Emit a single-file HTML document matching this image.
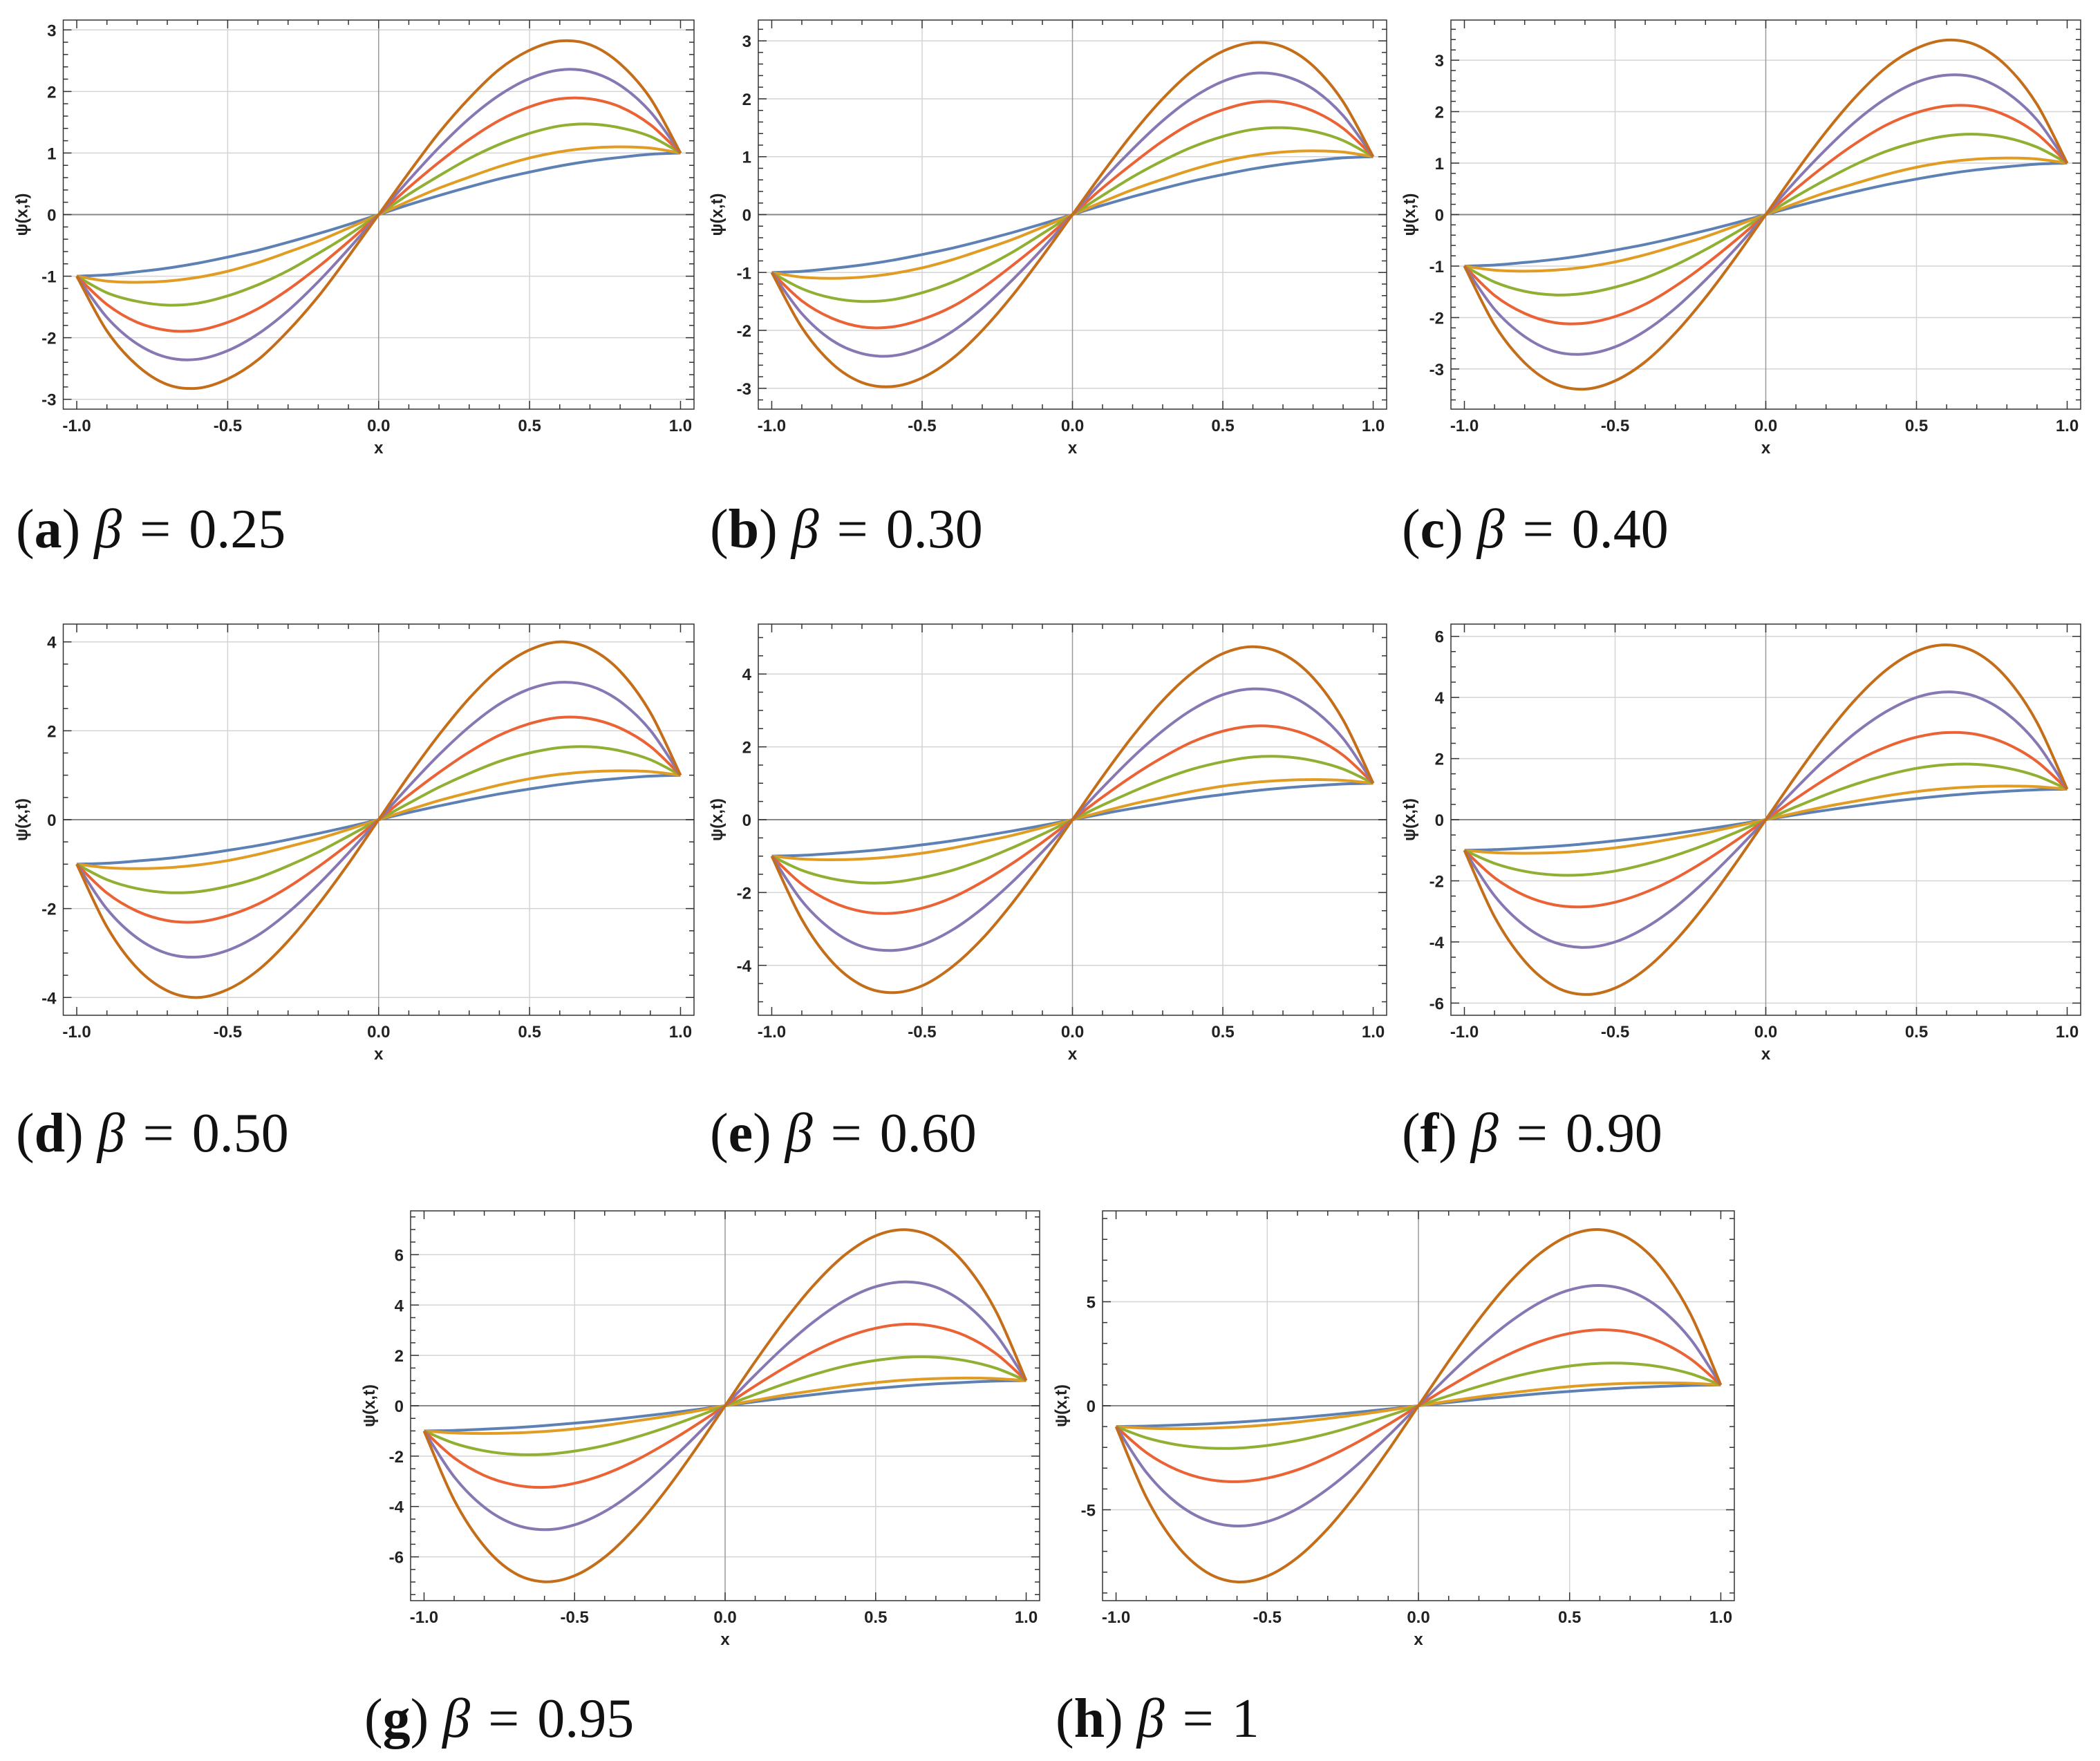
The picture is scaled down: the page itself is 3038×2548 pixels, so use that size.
<!DOCTYPE html>
<html><head><meta charset="utf-8">
<style>
html,body{margin:0;padding:0;background:#fff;}
svg{display:block;}
.tick{font-family:"Liberation Sans",sans-serif;font-size:24px;fill:#222;font-weight:bold;}
.cap{font-family:"Liberation Serif",serif;font-size:80px;fill:#111;}
</style></head>
<body>
<svg id="fig" width="3038" height="2548" viewBox="0 0 3038 2548" xmlns="http://www.w3.org/2000/svg"></svg>
<script>
// x samples for right half; left half is the odd mirror (curves pass through origin)
const xs = [0,0.1,0.2,0.3,0.4,0.5,0.6,0.7,0.8,0.9,1.0];
const blue = [0,0.16,0.31,0.45,0.58,0.69,0.79,0.87,0.93,0.98,1.0];
const yellow = [0,0.22,0.43,0.61,0.78,0.92,1.02,1.08,1.10,1.08,1.0];
const greenA=[0,.33,.63,.91,1.14,1.32,1.44,1.47,1.41,1.27,1];
const greenB=[0,.33,.65,.93,1.17,1.35,1.47,1.50,1.44,1.28,1];
const greenC=[0,.35,.68,.98,1.23,1.41,1.53,1.56,1.49,1.31,1];
const greenD=[0,.37,.73,1.04,1.31,1.50,1.62,1.64,1.55,1.35,1];
const greenE=[0,.40,.77,1.11,1.39,1.59,1.72,1.73,1.62,1.39,1];
const greenF=[0,.42,.82,1.17,1.46,1.68,1.80,1.81,1.69,1.43,1];
const greenG=[0,.45,.88,1.26,1.58,1.80,1.93,1.93,1.79,1.49,1];
const greenH=[0,.48,.93,1.34,1.67,1.91,2.04,2.03,1.87,1.54,1];
const redA=[0,.44,.85,1.22,1.53,1.75,1.88,1.88,1.75,1.46,1];
const redB=[0,.46,.88,1.27,1.59,1.81,1.94,1.94,1.79,1.49,1];
const redC=[0,.50,.97,1.39,1.74,1.98,2.11,2.10,1.92,1.57,1];
const redD=[0,.55,1.06,1.52,1.90,2.16,2.30,2.27,2.06,1.65,1];
const redE=[0,.62,1.20,1.71,2.14,2.43,2.57,2.52,2.26,1.77,1];
const redF=[0,.69,1.34,1.92,2.38,2.70,2.85,2.79,2.48,1.90,1];
const redG=[0,.79,1.53,2.19,2.72,3.08,3.24,3.14,2.77,2.07,1];
const redH=[0,.90,1.74,2.48,3.08,3.48,3.65,3.53,3.07,2.25,1];
const purpleA=[0,.56,1.09,1.56,1.94,2.21,2.35,2.32,2.10,1.67,1];
const purpleB=[0,.59,1.13,1.62,2.02,2.30,2.44,2.40,2.17,1.71,1];
const purpleC=[0,.66,1.27,1.82,2.26,2.57,2.71,2.66,2.37,1.84,1];
const purpleD=[0,.75,1.46,2.09,2.60,2.94,3.09,3.01,2.66,2.01,1];
const purpleE=[0,.88,1.71,2.44,3.03,3.43,3.59,3.48,3.03,2.23,1];
const purpleF=[0,1.03,2.00,2.86,3.54,4.00,4.18,4.02,3.47,2.49,1];
const purpleG=[0,1.23,2.38,3.39,4.20,4.73,4.92,4.71,4.03,2.82,1];
const purpleH=[0,1.45,2.81,4.00,4.95,5.57,5.78,5.51,4.67,3.20,1];
const orangeA=[0,.68,1.33,1.89,2.36,2.67,2.82,2.76,2.45,1.89,1];
const orangeB=[0,.72,1.40,2.00,2.49,2.82,2.97,2.90,2.57,1.95,1];
const orangeC=[0,.83,1.61,2.30,2.86,3.23,3.39,3.29,2.88,2.14,1];
const orangeD=[0,.99,1.91,2.73,3.39,3.82,4.00,3.85,3.34,2.41,1];
const orangeE=[0,1.18,2.29,3.27,4.04,4.56,4.75,4.55,3.90,2.74,1];
const orangeF=[0,1.43,2.78,3.96,4.90,5.51,5.72,5.46,4.63,3.18,1];
const orangeG=[0,1.76,3.41,4.86,6.01,6.75,6.99,6.64,5.58,3.74,1];
const orangeH=[0,2.14,4.15,5.91,7.30,8.19,8.47,8.01,6.69,4.40,1];
const xTicks = [-1.0,-0.5,0.0,0.5,1.0];
const xTickLabels = ["-1.0","-0.5","0.0","0.5","1.0"];
const yTicksA=[-3,-2,-1,0,1,2,3];
const yTicksD=[-4,-2,0,2,4];
const yTicksF=[-6,-4,-2,0,2,4,6];
const yTicksH=[-5,0,5];
const yExtent=[3.16,3.36,3.78,4.4,5.37,6.4,7.74,9.37];
const captionLetters=["a","b","c","d","e","f","g","h"];
const captionValues=["0.25","0.30","0.40","0.50","0.60","0.90","0.95","1"];

const colors=["#5E81B5","#E19C24","#8FB032","#EB6235","#8778B3","#C56E1A"];
const seriesNames=["blue","yellow","green","red","purple","orange"];
const frames=[[91.5,29,1004,592],[1097,29,2006,592],[2099,29,3010,592],
 [91.5,903,1004,1469],[1097,903,2006,1469],[2099,903,3010,1469],
 [594,1752,1504,2316],[1595,1752,2509,2316]];
const capPos=[[23,792],[1027,792],[2028,792],[23,1666],[1027,1666],[2028,1666],[527,2513],[1527,2513]];
const greens=[greenA,greenB,greenC,greenD,greenE,greenF,greenG,greenH];
const reds=[redA,redB,redC,redD,redE,redF,redG,redH];
const purples=[purpleA,purpleB,purpleC,purpleD,purpleE,purpleF,purpleG,purpleH];
const oranges=[orangeA,orangeB,orangeC,orangeD,orangeE,orangeF,orangeG,orangeH];
const yTickSets=[yTicksA,yTicksA,yTicksA,yTicksD,yTicksD,yTicksF,yTicksF,yTicksH];

const NS="http://www.w3.org/2000/svg";
const svg=document.getElementById('fig');
function mk(tag,attrs,parent){const e=document.createElementNS(NS,tag);for(const k in attrs)e.setAttribute(k,attrs[k]);(parent||svg).appendChild(e);return e;}

function catmull(pts){let d="M"+pts[0][0].toFixed(1)+","+pts[0][1].toFixed(1);
 for(let i=0;i<pts.length-1;i++){const p0=pts[Math.max(i-1,0)],p1=pts[i],p2=pts[i+1],p3=pts[Math.min(i+2,pts.length-1)];
  const c1=[p1[0]+(p2[0]-p0[0])/6,p1[1]+(p2[1]-p0[1])/6],c2=[p2[0]-(p3[0]-p1[0])/6,p2[1]-(p3[1]-p1[1])/6];
  d+="C"+c1[0].toFixed(1)+","+c1[1].toFixed(1)+" "+c2[0].toFixed(1)+","+c2[1].toFixed(1)+" "+p2[0].toFixed(1)+","+p2[1].toFixed(1);}
 return d;}

for(let p=0;p<8;p++){
 const [L,T,R,B]=frames[p];const W=R-L,H=B-T;const ext=yExtent[p];
 const pad=0.0214;
 const sx=x=>L+W*(pad+(x+1)/2*(1-2*pad));
 const sy=y=>T+H*(ext-y)/(2*ext);
 const g=mk('g',{});
 
 
 const yt=yTickSets[p];const step=yt[1]-yt[0];
 xTicks.forEach(v=>{if(v!==0&&Math.abs(v)<1){const l=mk('line',{x1:sx(v),x2:sx(v),y1:T,y2:B,stroke:'#d4d4d4','stroke-width':1.5},g);}});
 yt.forEach(v=>{if(v!==0){const l=mk('line',{x1:L,x2:R,y1:sy(v),y2:sy(v),stroke:'#d4d4d4','stroke-width':1.5},g);}});
 const ax1=mk('line',{x1:sx(0),x2:sx(0),y1:T,y2:B,stroke:'#999','stroke-width':1.5},g);
 
 const ax2=mk('line',{x1:L,x2:R,y1:sy(0),y2:sy(0),stroke:'#888','stroke-width':2},g);
 
 let tk="";
 for(let i=-10;i<=10;i++){const v=i/10;const len=(i%5===0)?12:7;const X=sx(v);tk+=`M${X},${B}v${-len}M${X},${T}v${len}`;}
 const minor=step/(step===1?5:(step===2?4:5));
 for(let v=Math.ceil(-ext/minor)*minor;v<=ext+1e-9;v+=minor){const maj=Math.abs(v/step-Math.round(v/step))<1e-6;const len=maj?12:7;const Y=sy(v);tk+=`M${L},${Y}h${len}M${R},${Y}h${-len}`;}
 const tkp=mk('path',{d:tk,stroke:'#333','stroke-width':1.5,fill:'none'},g);
 
 const fr=mk('rect',{x:L,y:T,width:W,height:H,fill:'none',stroke:'#333','stroke-width':1.5},g);
 
 xTicks.forEach((v,i)=>{const t=mk('text',{x:sx(v),y:B+32,'text-anchor':'middle',class:'tick'},g);t.textContent=xTickLabels[i];
  });
 yt.forEach(v=>{const t=mk('text',{x:L-10,y:sy(v)+9,'text-anchor':'end',class:'tick'},g);t.textContent=String(v);
  });
 const xl=mk('text',{x:sx(0),y:B+64,'text-anchor':'middle',class:'tick'},g);xl.textContent='x';
 
 const yl=mk('text',{x:0,y:0,'text-anchor':'middle',class:'tick',transform:`translate(${L-52},${sy(0)}) rotate(-90)`},g);yl.textContent='ψ(x,t)';
 
 const series=[blue,yellow,greens[p],reds[p],purples[p],oranges[p]];
 series.forEach((arr,si)=>{
  const pts=[];
  for(let i=xs.length-1;i>0;i--)pts.push([sx(-xs[i]),sy(-arr[i])]);
  for(let i=0;i<xs.length;i++)pts.push([sx(xs[i]),sy(arr[i])]);
  const pa=mk('path',{d:catmull(pts),stroke:colors[si],'stroke-width':4,fill:'none','stroke-linejoin':'round'},g);
  
  
 });
 const c=mk('text',{x:capPos[p][0],y:capPos[p][1],class:'cap'});
 
 
 c.innerHTML=`(<tspan font-weight="bold">${captionLetters[p]}</tspan>) <tspan font-style="italic">β</tspan> <tspan dx="6">=</tspan> <tspan dx="6">${captionValues[p]}</tspan>`;
}
</script>
</body></html>
